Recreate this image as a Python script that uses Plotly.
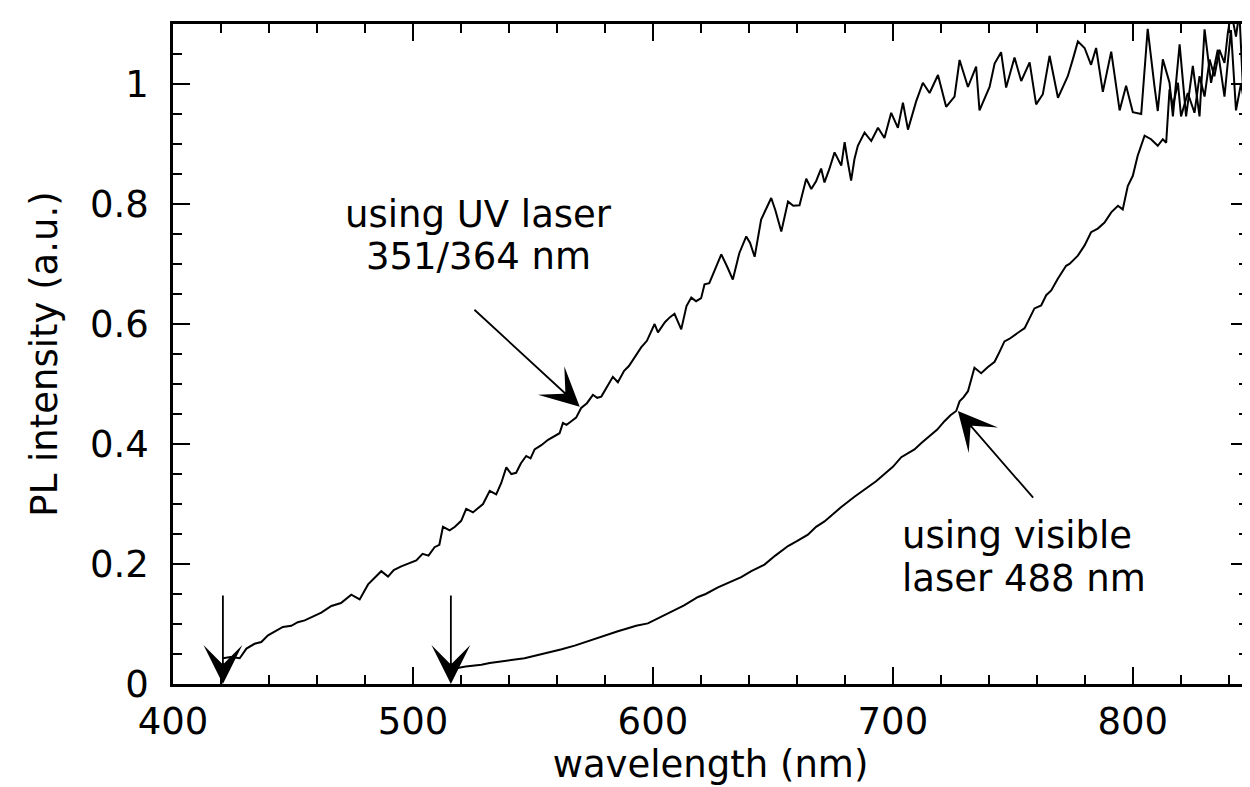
import plotly.graph_objects as go

# ---------------- data ----------------
uv_wavelength = [
    420.8, 424, 427.8, 430.6, 434, 436.8, 439.6, 442.4, 445.8, 449.3, 452, 454.9,
    457.6, 461.8, 466, 470, 474.3, 477.8, 481.3, 484, 486.8, 489.6, 492, 495.1,
    498, 501.4, 504, 506.5, 509, 511, 512.5, 515.3, 517.5, 520.1, 522.2, 525,
    529.2, 532, 534.7, 536.8, 538.9, 541, 543, 545, 547.2, 549, 550.7, 553.5,
    556.3, 558.5, 561.1, 562.5, 564, 566, 568, 570.1, 572.5, 575, 576.8, 578.5,
    581, 583.3, 585.4, 588, 590, 592.5, 595.1, 597.5, 600.7, 602.1, 605, 607,
    609, 611.8, 614, 616, 618, 620.1, 621.5, 623.5, 625.7, 628.5, 631, 633.3,
    636, 638.9, 640.5, 642.4, 645.1, 647, 649.3, 651, 653.5, 656.3, 658.5, 661.1,
    663.9, 666, 668, 670.1, 671.5, 673.5, 675.7, 678.5, 679.9, 681, 682.6, 684,
    685.4, 688.2, 691, 693.8, 696.5, 699.3, 702.1, 704.2, 706.3, 709.7, 712.5, 715.3,
    718.8, 722.2, 725.7, 727.8, 731.3, 734.7, 736.1, 740.3, 742.4, 745.1, 747.2, 750.7,
    753.5, 757, 759.7, 762.5, 765.3, 768.8, 772.9, 775, 777.1, 779.9, 782.6, 784.7,
    787.5, 791, 794.5, 797.2, 800, 803.5, 806.2, 809, 810.4, 812.5, 815.3, 816.7,
    819.5, 822.2, 825, 827.8, 829.9, 832.6, 835.4, 838.2, 840.9, 843, 845.1, 847,
    848,
]
uv_intensity = [
    0.043, 0.045, 0.043, 0.059, 0.067, 0.070, 0.081, 0.087, 0.095, 0.097, 0.103, 0.106,
    0.111, 0.119, 0.130, 0.135, 0.149, 0.141, 0.166, 0.176, 0.188, 0.179, 0.190, 0.196,
    0.200, 0.206, 0.217, 0.214, 0.228, 0.232, 0.262, 0.256, 0.262, 0.272, 0.292, 0.286,
    0.300, 0.322, 0.316, 0.335, 0.361, 0.350, 0.352, 0.368, 0.380, 0.376, 0.391, 0.398,
    0.407, 0.412, 0.418, 0.435, 0.432, 0.438, 0.444, 0.460, 0.468, 0.482, 0.477, 0.479,
    0.497, 0.512, 0.503, 0.522, 0.530, 0.545, 0.561, 0.572, 0.600, 0.586, 0.603, 0.611,
    0.617, 0.591, 0.630, 0.644, 0.638, 0.643, 0.666, 0.668, 0.688, 0.716, 0.695, 0.674,
    0.718, 0.746, 0.735, 0.712, 0.774, 0.790, 0.810, 0.790, 0.754, 0.804, 0.797, 0.798,
    0.842, 0.825, 0.838, 0.859, 0.836, 0.858, 0.886, 0.864, 0.903, 0.875, 0.839, 0.875,
    0.897, 0.919, 0.905, 0.927, 0.910, 0.952, 0.927, 0.969, 0.924, 0.971, 1.002, 0.985,
    1.015, 0.962, 0.979, 1.040, 0.995, 1.029, 0.956, 0.995, 1.034, 1.053, 0.994, 1.044,
    1.005, 1.036, 0.966, 0.983, 1.047, 0.977, 1.013, 1.041, 1.071, 1.060, 1.032, 1.060,
    0.987, 1.054, 0.956, 0.997, 0.953, 0.950, 1.092, 0.997, 0.955, 1.041, 1.002, 0.946,
    1.066, 0.946, 1.030, 0.946, 1.091, 1.002, 1.057, 0.979, 1.090, 0.956, 1.001, 0.955,
    0.970,
]

vis_wavelength = [
    516.5, 517.4, 522, 528.5, 532, 536.8, 541, 546.5, 552, 557.6, 562, 567.4,
    571, 575.7, 580, 585.4, 589.6, 593, 597.9, 601, 604, 609, 613, 618.8,
    622, 627.1, 632, 636.8, 641, 646.5, 651, 656.3, 660, 664.6, 668, 671.5,
    675, 678.5, 684, 689.6, 693, 696.5, 700, 703.5, 706, 709, 712, 716,
    718.5, 721.5, 724, 726.4, 727.8, 729.5, 731.3, 734, 736.8, 739.5, 742.4, 744.5,
    746.5, 748.5, 750.7, 753, 754.9, 757.6, 759, 761.8, 763.9, 766, 768.8, 772.2,
    773.6, 777.1, 779.9, 782.6, 785.4, 788.2, 791, 793.8, 795.8, 797.9, 800, 802,
    804.9, 807.6, 810.4, 812.5, 813.9, 815.3, 816.7, 818.8, 820.1, 822.9, 825.7, 827.8,
    829.9, 832, 834, 836.1, 838.2, 839.6, 841, 843, 844.4, 845.8, 846.5, 848,
]
vis_intensity = [
    0.026, 0.026, 0.029, 0.032, 0.035, 0.037, 0.040, 0.043, 0.048, 0.053, 0.058, 0.064,
    0.069, 0.075, 0.081, 0.088, 0.093, 0.097, 0.101, 0.107, 0.113, 0.123, 0.131, 0.145,
    0.150, 0.161, 0.170, 0.178, 0.188, 0.199, 0.214, 0.230, 0.238, 0.249, 0.262, 0.271,
    0.283, 0.295, 0.312, 0.328, 0.338, 0.350, 0.362, 0.378, 0.384, 0.391, 0.402, 0.416,
    0.424, 0.438, 0.448, 0.455, 0.471, 0.478, 0.488, 0.527, 0.518, 0.528, 0.537, 0.554,
    0.571, 0.575, 0.582, 0.588, 0.593, 0.615, 0.626, 0.631, 0.648, 0.656, 0.676, 0.697,
    0.700, 0.714, 0.731, 0.753, 0.759, 0.769, 0.786, 0.797, 0.791, 0.830, 0.847, 0.880,
    0.914, 0.908, 0.897, 0.908, 0.902, 0.991, 0.963, 1.002, 0.946, 0.985, 0.952, 1.013,
    0.979, 1.041, 1.013, 1.057, 1.035, 1.085, 1.120, 1.079, 1.120, 1.001, 0.951, 0.980,
]

x_tick_values = [400, 500, 600, 700, 800]
y_tick_values = [0, 0.2, 0.4, 0.6, 0.8, 1.0]
y_tick_labels = ["0", "0.2", "0.4", "0.6", "0.8", "1"]

uv_label = ["using UV laser", "351/364 nm"]
vis_label = ["using visible", "laser 488 nm"]
edge_marks = [420.8, 515.8]   # excitation-edge arrows (nm)

# ---------------- figure ----------------
FONT = "DejaVu Sans"
fig = go.Figure()
line_style = dict(color="black", width=2)
fig.add_trace(go.Scatter(x=uv_wavelength, y=uv_intensity, mode="lines",
                         line=line_style, showlegend=False, hoverinfo="skip"))
fig.add_trace(go.Scatter(x=vis_wavelength, y=vis_intensity, mode="lines",
                         line=line_style, showlegend=False, hoverinfo="skip"))

arrow_common = dict(showarrow=True, text="", axref="x", ayref="y", xref="x", yref="y",
                    arrowhead=3, arrowsize=3.6, arrowwidth=1.8, arrowcolor="black",
                    standoff=0, startstandoff=0)
annotations = []
for xm in edge_marks:
    annotations.append(dict(x=xm, y=0.0, ax=xm, ay=0.15, **arrow_common))
annotations.append(dict(x=569.5, y=0.462, ax=525, ay=0.626, **arrow_common))
annotations.append(dict(x=727.1, y=0.455, ax=759, ay=0.308, **arrow_common))

text_font = dict(family=FONT, size=37, color="black")
annotations += [
    dict(x=527.5, y=0.783, text=uv_label[0], showarrow=False, xanchor="center",
         yanchor="middle", font=text_font),
    dict(x=527.5, y=0.712, text=uv_label[1], showarrow=False, xanchor="center",
         yanchor="middle", font=text_font),
    dict(x=703.0, y=0.248, text=vis_label[0], showarrow=False, xanchor="left",
         yanchor="middle", font=text_font),
    dict(x=703.0, y=0.176, text=vis_label[1], showarrow=False, xanchor="left",
         yanchor="middle", font=text_font),
]

axis_common = dict(showline=True, linecolor="black", linewidth=2.5, mirror="ticks",
                   ticks="inside", ticklen=17, tickwidth=2, tickcolor="black",
                   showgrid=False, zeroline=False, automargin=False,
                   tickfont=dict(family=FONT, size=37, color="black"))

fig.update_layout(
    width=1250, height=787,
    margin=dict(l=165, r=10, t=16, b=111),
    paper_bgcolor="white", plot_bgcolor="white",
    font=dict(family=FONT, color="black"),
    annotations=annotations,
    xaxis=dict(range=[400, 848], tickvals=x_tick_values,
               minor=dict(dtick=20, tick0=400, ticks="inside", ticklen=9,
                          tickwidth=2, tickcolor="black"),
               title=dict(text="wavelength (nm)",
                          font=dict(family=FONT, size=37, color="black"),
                          standoff=4),
               ticklabelstandoff=3,
               **axis_common),
    yaxis=dict(range=[0, 1.1], tickvals=y_tick_values, ticktext=y_tick_labels,
               minor=dict(dtick=0.05, tick0=0, ticks="inside", ticklen=9,
                          tickwidth=2, tickcolor="black"),
               title=dict(text="PL intensity (a.u.)",
                          font=dict(family=FONT, size=37, color="black"),
                          standoff=22),
               ticklabelstandoff=14,
               **axis_common),
)

fig.write_html("out.html")
